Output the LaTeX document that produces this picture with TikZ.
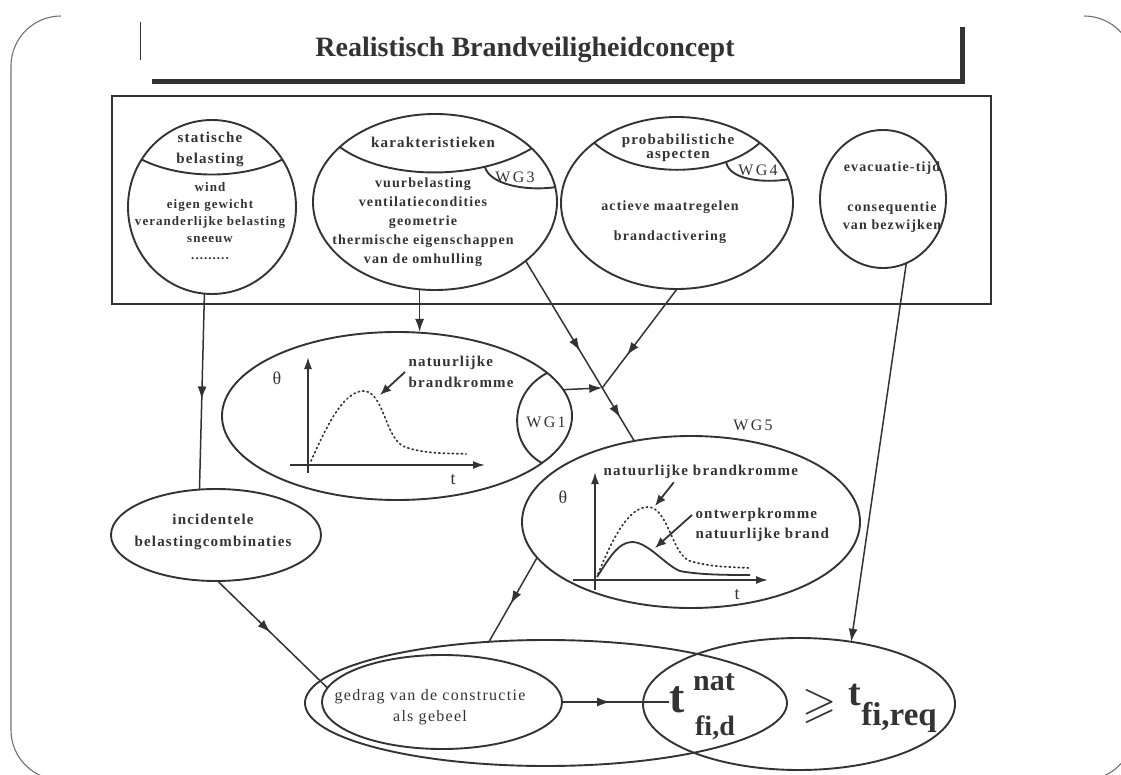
\documentclass[tikz,border=0pt]{standalone}
\usepackage{amssymb}
\usepackage{fontspec}
\setmainfont{Liberation Serif}
\newfontfamily\spaced[LetterSpace=8]{Liberation Serif}
\newfontfamily\wide[LetterSpace=14]{Liberation Serif}
\usetikzlibrary{arrows.meta}
\usetikzlibrary{decorations.markings}
\usetikzlibrary{shapes.geometric}
\usetikzlibrary{calc}
\definecolor{ink}{HTML}{333333}
\definecolor{rim}{HTML}{707070}
\newcommand{\fsz}[2]{\fontsize{#1}{#2}\selectfont}

\begin{document}
\begin{tikzpicture}[x=1pt,y=-1pt,
  ell/.style={draw=ink,ellipse,line width=1.9pt,inner sep=0pt,outer sep=0pt},
  conn/.style={color=ink,line width=1.5pt},
  divide/.style={conn,line width=1.9pt},
  arr/.style={conn,-{Latex[length=13pt,width=9pt]}},
  smallarr/.style={conn,line width=1.8pt,-{Latex[length=11pt,width=9pt]}},
  midarrow/.style={conn,postaction={decorate},decoration={markings,mark=at position #1 with {\arrow{Latex[length=13pt,width=9pt]}}}},
  axis/.style={draw=ink,line width=1.8pt,-{Latex[length=12pt,width=8pt]}},
  dotcurve/.style={draw=ink,line width=1.7pt,dash pattern=on 1.3pt off 3.2pt,line cap=round},
  head/.style={text=ink,align=center,font=\spaced\bfseries\fsz{15}{21}},
  body/.style={text=ink,align=center,font=\spaced\bfseries\fsz{14}{19}},
  wglab/.style={text=ink,font=\wide\fsz{16}{18}},
  axlab/.style={text=ink,font=\fsz{18}{20}},
  bigtxt/.style={text=ink,font=\bfseries\fsz{#1}{#1},anchor=base,inner sep=0pt}]
\useasboundingbox (0,0) rectangle (1121,775);
\draw[rim,line width=1.1pt,rounded corners=50pt] (61,16) -- (11,16) -- (11,780) -- (1134,780) -- (1134,16) -- (1084,16);
\draw[ink,line width=0.8pt] (140,22) -- (140,60);
\draw[ink,line width=5pt] (152,82) -- (962,82) -- (962,27);
\node[text=ink,font=\bfseries\fsz{28}{32},anchor=base] (title) at (525,57) {Realistisch Brandveiligheidconcept};
\draw[ink,line width=1.9pt] (112,96) rectangle (991,304);

\node[ell,minimum width=168pt,minimum height=174pt] (stat) at (212,207) {};
\node[ell,minimum width=244pt,minimum height=176pt] (kar) at (435,202) {};
\node[ell,minimum width=232pt,minimum height=172pt] (prob) at (677,203) {};
\node[ell,minimum width=126pt,minimum height=138pt] (evac) at (883,199) {};
\node[ell,minimum width=350pt,minimum height=168pt] (nat) at (397,416) {};
\node[ell,minimum width=338pt,minimum height=172pt] (wg5) at (691,522) {};
\node[ell,minimum width=210pt,minimum height=92pt] (inc) at (216,535) {};
\node[ell,minimum width=482pt,minimum height=126pt] (big) at (546,703) {};
\node[ell,minimum width=240pt,minimum height=94pt] (ged) at (442,702) {};
\node[ell,minimum width=312pt,minimum height=132pt] (treq) at (799,704) {};

\draw[divide] (stat.146) .. controls +(40,20) and +(-40,20) .. (stat.34);
\draw[divide] (kar.150) .. controls +(45,33) and +(-55,33) .. (kar.29) coordinate[pos=0.75] (wg3a);
\draw[divide] (wg3a) .. controls +(5,18) and +(-30,4) .. (kar.7);
\draw[divide] (prob.144) .. controls +(40,36) and +(-40,36) .. (prob.36) coordinate[pos=0.77] (wg4a);
\draw[divide] (wg4a) .. controls +(3,18) and +(-25,4) .. (prob.12);
\draw[divide] (nat.16) .. controls +(-38,20) and +(-35,-20) .. (nat.-18);

\node[head] (stathead) at (210,149) {statische\\belasting};
\node[body,font=\spaced\bfseries\fsz{13}{17}] (statbody) at (210,221) {wind\\eigen gewicht\\veranderlijke belasting\\sneeuw\\.........};
\node[head] (karhead) at (433,142) {karakteristieken};
\node[body] (karbody) at (423,222) {vuurbelasting\\ventilatiecondities\\geometrie\\thermische eigenschappen\\van de omhulling};
\node[wglab] (wg3lab) at (515,177) {WG3};
\node[head,font=\spaced\bfseries\fsz{15}{14}] (probhead) at (678,148) {probabilistiche\\aspecten};
\node[body,font=\spaced\bfseries\fsz{14}{30}] (probbody) at (670,222) {actieve maatregelen\\brandactivering};
\node[wglab] (wg4lab) at (758,170) {WG4};
\node[body] (evactime) at (892,168) {evacuatie-tijd};
\node[body,font=\spaced\bfseries\fsz{14}{18}] (evaccons) at (892,217) {consequentie\\van bezwijken};

\draw[axis] (308,473) -- (308,357);
\draw[axis] (290,465) -- (485,465);
\draw[dotcurve] (311,461) .. controls (325,430) and (342,392) .. (363,391) .. controls (384,390) and (385,440) .. (405,447) .. controls (425,454) and (445,453) .. (466,454);
\node[axlab] (natth) at (277,378) {θ};
\node[axlab] (natt) at (453,480) {t};
\node[head,align=left,anchor=west,font=\spaced\bfseries\fsz{15}{21}] (natlab) at (405,372) {natuurlijke\\brandkromme};
\coordinate (natpk) at (380,395);
\draw[smallarr] (natlab.west) -- (natpk);
\node[wglab] (wg1lab) at (546,422) {WG1};

\node[wglab] (wg5lab) at (753,425) {WG5};
\draw[axis] (595,590) -- (595,472);
\draw[axis] (573,580) -- (768,580);
\draw[dotcurve] (598,574) .. controls (612,540) and (628,507) .. (648,507) .. controls (668,507) and (672,555) .. (690,561) .. controls (710,567) and (730,567) .. (750,568);
\draw[ink,line width=1.8pt] (597,577) .. controls (608,560) and (618,542) .. (632,542) .. controls (648,542) and (665,565) .. (680,571) .. controls (700,575) and (730,575) .. (750,575);
\node[axlab] (wg5th) at (563,497) {θ};
\node[axlab] (wg5t) at (737,595) {t};
\node[head,anchor=west] (wg5laba) at (600,472) {natuurlijke brandkromme};
\node[head,align=left,anchor=west,font=\spaced\bfseries\fsz{15}{20}] (wg5labb) at (692,525) {ontwerpkromme\\natuurlijke brand};
\coordinate (wg5pka) at (655,506);
\coordinate (wg5pkb) at (655,548);
\draw[smallarr] ([xshift=-27pt]wg5laba.south) -- (wg5pka);
\draw[smallarr] ([yshift=10pt]wg5labb.west) -- (wg5pkb);

\node[head,font=\spaced\bfseries\fsz{15}{22}] (inclab) at (213,532) {incidentele\\belastingcombinaties};
\node[text=ink,align=center,font=\spaced\fsz{16}{21}] (gedlab) at (430,707) {gedrag van de constructie\\als gebeel};

\node[bigtxt=46] (tnat) at (677,712) {t};
\node[bigtxt=30] (natsup) at (714,690) {nat};
\node[bigtxt=28] (natsub) at (715,735) {fi,d};
\node[text=ink,font=\fsz{44}{44}] (geq) at (820,706) {$\geqslant$};
\node[bigtxt=38] (treqt) at (855,705) {t};
\node[bigtxt=33] (treqsub) at (899,725) {fi,req};

\coordinate (junc) at ($(kar.-33)!0.705!(wg5.125)$);
\draw[midarrow=0.54] (stat.-95) -- (inc.110);
\draw[arr] (kar.-100) -- (kar.-100 |- nat.north);
\draw[conn,postaction={decorate},decoration={markings,mark=at position 0.5 with {\arrow{Latex[length=13pt,width=9pt]}},mark=at position 0.87 with {\arrow{Latex[length=13pt,width=9pt]}}}] (kar.-33) -- (wg5.125);
\draw[midarrow=0.67] (prob.south) -- (junc);
\draw[arr] (nat.9) -- (junc);
\draw[arr] (evac.-70) -- (treq.50);
\draw[midarrow=0.55] (wg5.193) -- (big.133);
\draw[midarrow=0.48] (inc.-88) -- (ged.173);
\draw[midarrow=0.45] (ged.east) -- (ged.east -| tnat.west);
\end{tikzpicture}
\end{document}
